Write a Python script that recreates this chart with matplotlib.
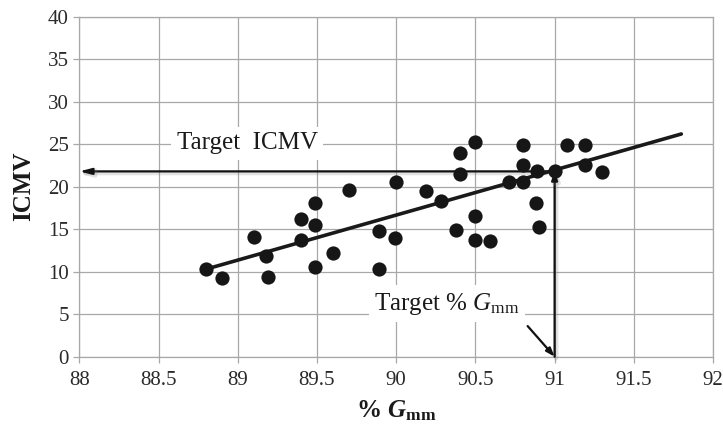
import numpy as np
import matplotlib
matplotlib.use("Agg")
import matplotlib.pyplot as plt
import matplotlib.patheffects as pe

# ---- data ----
gmm = [88.8, 88.9, 89.1, 89.18, 89.19, 89.4, 89.4, 89.49, 89.49, 89.49, 89.6, 89.7,
       89.89, 89.89, 90.0, 89.99, 90.19, 90.28, 90.38, 90.4, 90.4, 90.5, 90.5, 90.5,
       90.59, 90.71, 90.8, 90.8, 90.8, 90.89, 90.88, 90.9, 91.0, 91.08, 91.19, 91.19, 91.3]
icmv = [10.3, 9.2, 14.1, 11.8, 9.4, 16.2, 13.7, 18.1, 15.5, 10.6, 12.2, 19.6,
        14.8, 10.3, 20.5, 14.0, 19.5, 18.3, 14.9, 24.0, 21.5, 25.3, 16.5, 13.7,
        13.6, 20.5, 24.9, 22.6, 20.5, 21.8, 18.1, 15.3, 21.9, 24.9, 24.9, 22.6, 21.7]
trend_x = [88.8, 91.8]
trend_slope = 5.3
trend_intercept = 10.3 - 5.3 * 88.8
target_gmm = 91.0
target_icmv = 21.8
xticks = [88, 88.5, 89, 89.5, 90, 90.5, 91, 91.5, 92]
yticks = [0, 5, 10, 15, 20, 25, 30, 35, 40]

plt.rcParams['font.family'] = ['Liberation Serif', 'DejaVu Serif']
plt.rcParams['mathtext.fontset'] = 'custom'
plt.rcParams['mathtext.rm'] = 'Liberation Serif'
plt.rcParams['mathtext.it'] = 'Liberation Serif:italic'
plt.rcParams['mathtext.bf'] = 'Liberation Serif:bold'
plt.rcParams['mathtext.bfit'] = 'Liberation Serif:italic:bold'

fig = plt.figure(figsize=(7.23, 4.30), dpi=100)
ax = fig.add_axes([0.1097, 0.1705, 0.8765, 0.7907])

grid_c = '#a8a8a8'
ax.set_xlim(88, 92)
ax.set_ylim(0, 40)
ax.set_xticks(xticks)
ax.set_xticklabels([f"{t:g}" for t in xticks])
ax.set_yticks(yticks)
ax.set_yticklabels([f"{t:g}" for t in yticks])
ax.grid(True, color=grid_c, linewidth=0.9, zorder=0)
ax.set_axisbelow(True)
for s in ax.spines.values():
    s.set_color(grid_c)
    s.set_linewidth(0.9)
ax.tick_params(axis='both', colors=grid_c, labelcolor='#2a2a2a', labelsize=15,
               length=4.5, width=0.9, direction='out')
ax.tick_params(axis='x', pad=6)
ax.tick_params(axis='y', pad=3)

shadow = [pe.SimpleLineShadow(offset=(1.2, -1.2), shadow_color='gray', alpha=0.22, linewidth=3.2),
          pe.Normal()]

# target arrows
ax.annotate('', xy=(88, target_icmv), xytext=(target_gmm, target_icmv),
            arrowprops=dict(arrowstyle='-|>,head_length=0.7,head_width=0.18', color='#111111',
                            lw=1.6, shrinkA=0, shrinkB=0, path_effects=shadow), zorder=3)
ax.annotate('', xy=(target_gmm, target_icmv), xytext=(target_gmm, 0),
            arrowprops=dict(arrowstyle='-|>,head_length=0.5,head_width=0.18', color='#111111',
                            lw=1.6, shrinkA=0, shrinkB=0, path_effects=shadow), zorder=3)

# trend line
tx = np.array(trend_x)
ax.plot(tx, trend_slope * tx + trend_intercept, color='#1a1a1a', lw=2.6,
        solid_capstyle='round', zorder=4)

# points
ax.scatter(gmm, icmv, s=105, color='#161616', zorder=5, linewidths=0)

# labels on chart
ax.text(89.06, 25.1, 'Target  ICMV', fontsize=18, color='#1a1a1a', ha='center', va='center',
        bbox=dict(facecolor='white', edgecolor='none', pad=4), zorder=2)
ax.text(90.32, 6.2, r'Target % $G_{\mathrm{mm}}$', fontsize=18, color='#1a1a1a',
        ha='center', va='center',
        bbox=dict(facecolor='white', edgecolor='none', pad=4), zorder=2)
ax.annotate('', xy=(target_gmm, 0), xytext=(90.83, 3.6),
            arrowprops=dict(arrowstyle='-|>,head_length=0.5,head_width=0.18', color='#111111',
                            lw=1.6, shrinkA=0, shrinkB=0), zorder=3)

ax.set_ylabel('ICMV', fontsize=18, fontweight='bold', color='#1a1a1a', labelpad=9)
ax.set_xlabel(r'% $\mathbfit{G}_{\mathbf{mm}}$', fontsize=18, fontweight='bold',
              color='#1a1a1a', labelpad=6)

fig.savefig('out.png', dpi=100)
